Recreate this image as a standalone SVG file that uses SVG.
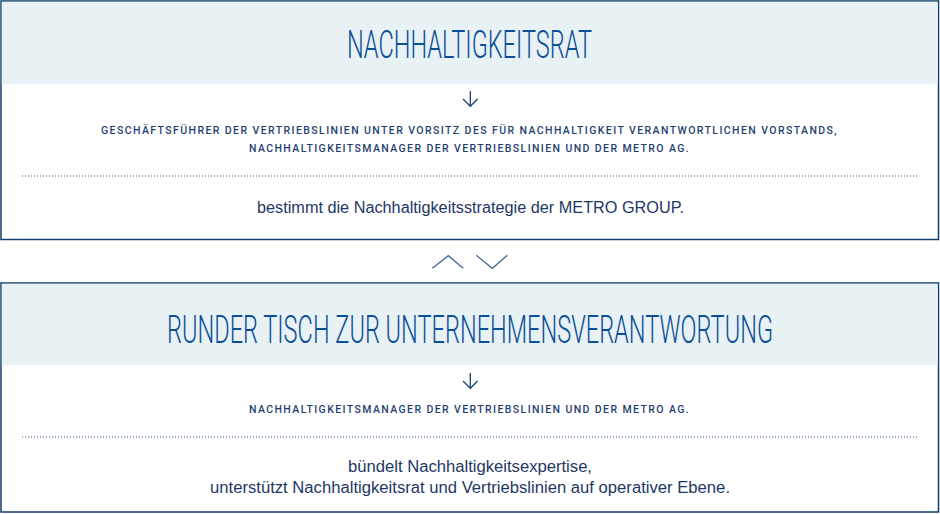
<svg xmlns="http://www.w3.org/2000/svg" width="940" height="514" viewBox="0 0 940 514">
<defs>
<style>
.frame{fill:#ffffff;stroke:#0e3d6e;stroke-width:1.5}
.head{fill:#e8f1f4}
.title{font-family:Roboto,"Liberation Sans",sans-serif;font-weight:300;font-size:38px;fill:#0c4f99;text-anchor:middle}
.caps{font-family:Roboto,"Liberation Sans",sans-serif;font-weight:500;font-size:10.5px;letter-spacing:1.3px;fill:#1f3f72;text-anchor:middle}
.body{font-family:"Liberation Sans","DejaVu Sans",sans-serif;font-size:16px;fill:#1e3766;text-anchor:middle}
.dots{stroke:#2b5c8e;stroke-width:1;stroke-dasharray:1 2;fill:none}
.arrow{stroke:#1a4273;stroke-width:1.3;fill:none}
.chev{stroke:#4b6b96;stroke-width:1.3;fill:none}
</style>
</defs>
<g id="node-nachhaltigkeitsrat">
<rect class="frame" x="1" y="1" width="937.5" height="238.5"/>
<rect class="head" x="1.75" y="1.75" width="936" height="82.5"/>
<g transform="translate(469.5 58.3) scale(0.62 1)">
<text class="title" x="0" y="0">NACHHALTIGKEITSRAT</text>
</g>
<path class="arrow" d="M470.3 91V106.5M463 99L470.3 106.3L477.6 99"/>
<text class="caps" x="469.5" y="134" textLength="737" lengthAdjust="spacing">GESCHÄFTSFÜHRER DER VERTRIEBSLINIEN UNTER VORSITZ DES FÜR NACHHALTIGKEIT VERANTWORTLICHEN VORSTANDS,</text>
<text class="caps" x="469.5" y="151.5" textLength="441" lengthAdjust="spacing">NACHHALTIGKEITSMANAGER DER VERTRIEBSLINIEN UND DER METRO AG.</text>
<line class="dots" x1="22" y1="176" x2="918" y2="176"/>
<text class="body" x="470.5" y="212.5" textLength="427" lengthAdjust="spacingAndGlyphs">bestimmt die Nachhaltigkeitsstrategie der METRO GROUP.</text>
</g>
<g id="connectors">
<path class="chev" d="M432.3 268.3L448.3 255.7L463.3 268.3"/>
<path class="chev" d="M476.3 255.3L492.3 268.3L507.3 255.3"/>
</g>
<g id="node-runder-tisch">
<rect class="frame" x="1" y="283" width="937.5" height="229"/>
<rect class="head" x="1.75" y="283.75" width="936" height="81.5"/>
<g transform="translate(470 343.3) scale(0.62 1)">
<text class="title" x="0" y="0">RUNDER TISCH ZUR UNTERNEHMENSVERANTWORTUNG</text>
</g>
<path class="arrow" d="M470.3 373V388.5M463 381L470.3 388.3L477.6 381"/>
<text class="caps" x="469.5" y="412.5" textLength="441" lengthAdjust="spacing">NACHHALTIGKEITSMANAGER DER VERTRIEBSLINIEN UND DER METRO AG.</text>
<line class="dots" x1="22" y1="437" x2="918" y2="437"/>
<text class="body" x="470" y="471.5" textLength="244" lengthAdjust="spacingAndGlyphs">bündelt Nachhaltigkeitsexpertise,</text>
<text class="body" x="470" y="492.5" textLength="520" lengthAdjust="spacingAndGlyphs">unterstützt Nachhaltigkeitsrat und Vertriebslinien auf operativer Ebene.</text>
</g>
</svg>
